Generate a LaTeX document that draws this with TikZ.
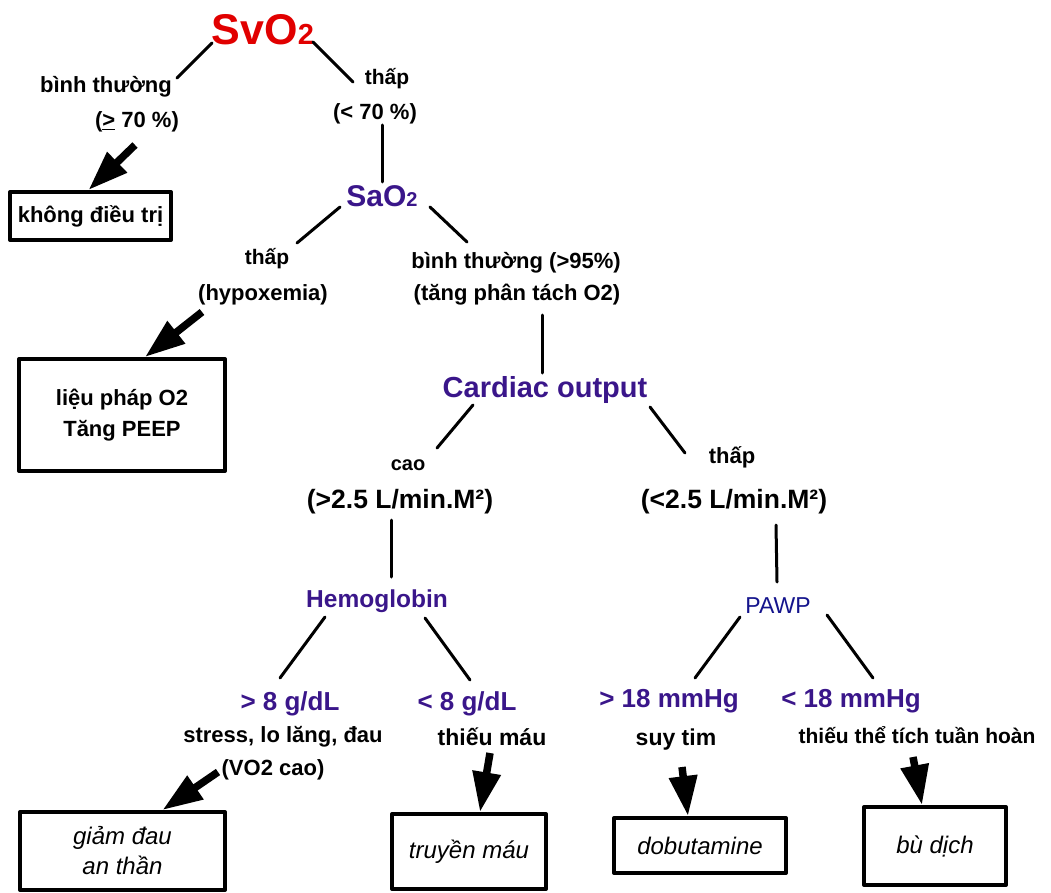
\documentclass[tikz,border=0pt]{standalone}
\usepackage{fontspec}
\setmainfont{Liberation Sans}
\usetikzlibrary{arrows.meta}
\definecolor{svored}{RGB}{225,0,0}
\definecolor{purp}{RGB}{58,22,138}
\definecolor{pawpblue}{RGB}{20,20,140}
\newcommand{\fs}[1]{\fontsize{#1}{#1}\selectfont}

\begin{document}
\begin{tikzpicture}[x=1pt,y=-1pt,line cap=round,line join=round,
  lbl/.style={anchor=base,inner sep=0pt,font=\fs{22}\bfseries},
  keynode/.style={anchor=base,inner sep=0pt,text=purp,font=\fs{26}\bfseries},
  link/.style={line width=3pt},
  treat/.style={draw,line width=4pt,inner sep=0pt,align=center,font=\fontsize{24}{30}\selectfont\itshape},
  bigarrow/.style={line width=7.5pt,line cap=butt,-{Triangle[length=40pt,width=27pt]}}]
\useasboundingbox (0,0) rectangle (1051,893);
% SvO2 level
\node[keynode,text=svored,font=\fs{43}\bfseries] (svo) at (263,45) {SvO{\fs{29}2}};
\node[lbl] (norm1) at (106,93) {bình thường};
\node[lbl] (ge70) at (137,128) {(\underline{>} 70 \%)};
\node[lbl,font=\fs{21}\bfseries] (low1) at (387,85) {thấp};
\node[lbl] (lt70) at (375,120) {(< 70 \%)};
\node[treat,minimum width=161pt,minimum height=48pt,font=\fs{22}\bfseries] (none) at (90.5,216) {không điều trị};
% SaO2 level
\node[keynode,font=\fs{30}\bfseries] (sao) at (382,207) {SaO{\fs{20}2}};
\node[lbl,font=\fs{21}\bfseries] (low2) at (267,265) {thấp};
\node[lbl] (hypox) at (263,300) {(hypoxemia)};
\node[lbl] (norm2) at (516,268) {bình thường (>95\%)};
\node[lbl] (sep) at (517,300) {(tăng phân tách O2)};
\node[treat,minimum width=206pt,minimum height=112pt,font=\fontsize{22}{31}\selectfont\bfseries] (o2) at (122,415) {liệu pháp O2\\Tăng PEEP};
% cardiac output level
\node[keynode,font=\fs{29}\bfseries] (co) at (545,397) {Cardiac output};
\node[lbl,font=\fs{20}\bfseries] (high) at (408,470) {cao};
\node[lbl,font=\fs{26.5}\bfseries] (gt25) at (400,508) {(>2.5 L/min.M²)};
\node[lbl] (low3) at (732,463) {thấp};
\node[lbl,font=\fs{26.5}\bfseries] (lt25) at (734,508) {(<2.5 L/min.M²)};
% hemoglobin branch
\node[keynode,font=\fs{24.5}\bfseries] (hb) at (377,607) {Hemoglobin};
\node[keynode] (gt8) at (290,710) {> 8 g/dL};
\node[keynode] (lt8) at (467,710) {< 8 g/dL};
\node[lbl] (stress) at (283,742) {stress, lo lăng, đau};
\node[lbl] (vo2) at (273,775) {(VO2 cao)};
\node[lbl,font=\fs{23}\bfseries] (anemia) at (492,745) {thiếu máu};
\node[treat,minimum width=205pt,minimum height=78pt] (sed) at (122.5,851) {giảm đau\\an thần};
\node[treat,minimum width=154pt,minimum height=75pt] (transf) at (469,851.5) {truyền máu};
% PAWP branch
\node[keynode,text=pawpblue,font=\fs{23}] (pawp) at (778,613) {PAWP};
\node[keynode] (gt18) at (669,707) {> 18 mmHg};
\node[keynode] (lt18) at (851,707) {< 18 mmHg};
\node[lbl,font=\fs{23}\bfseries] (hf) at (676,745) {suy tim};
\node[lbl,font=\fs{21}\bfseries] (hypovol) at (917,743) {thiếu thể tích tuần hoàn};
\node[treat,minimum width=172pt,minimum height=55pt] (dobu) at (700,845.5) {dobutamine};
\node[treat,minimum width=142pt,minimum height=78pt] (fluid) at (935,846) {bù dịch};
% branches
\draw[link] ([shift={(-51,-2)}]svo.base) -- ([shift={(71,-15)}]norm1.base);
\draw[link] ([shift={(50,-3)}]svo.base) -- ([shift={(-34,-3)}]low1.base);
\draw[link] ([shift={(7,5)}]lt70.base) -- ([shift={(0,-25)}]sao.base);
\draw[link] ([shift={(-42,0)}]sao.base) -- ([shift={(30,-22)}]low2.base);
\draw[link] ([shift={(48,0)}]sao.base) -- ([shift={(-49,-26)}]norm2.base);
\draw[link] ([shift={(25,15)}]sep.base) -- ([shift={(-3,-24)}]co.base);
\draw[link] ([shift={(-72,8)}]co.base) -- ([shift={(29,-22)}]high.base);
\draw[link] ([shift={(105,10)}]co.base) -- ([shift={(-47,-10)}]low3.base);
\draw[link] ([shift={(-9,12)}]gt25.base) -- ([shift={(14,-30)}]hb.base);
\draw[link] ([shift={(42,17)}]lt25.base) -- ([shift={(-1,-31)}]pawp.base);
\draw[link] ([shift={(-52,10)}]hb.base) -- ([shift={(-10,-32)}]gt8.base);
\draw[link] ([shift={(48,11)}]hb.base) -- ([shift={(3,-30)}]lt8.base);
\draw[link] ([shift={(-38,4)}]pawp.base) -- ([shift={(26,-29)}]gt18.base);
\draw[link] ([shift={(49,2)}]pawp.base) -- ([shift={(22,-29)}]lt18.base);
% treatment arrows
\draw[bigarrow] ([shift={(-2,17)}]ge70.base) -- ([xshift=-2pt]none.north);
\draw[bigarrow] ([shift={(-61,12)}]hypox.base) -- ([xshift=23pt]o2.north);
\draw[bigarrow] ([shift={(-55,-3)}]vo2.base) -- ([xshift=40pt]sed.north);
\draw[bigarrow] ([shift={(-2,8)}]anemia.base) -- ([xshift=11pt]transf.north);
\draw[bigarrow] ([shift={(6,22)}]hf.base) -- ([xshift=-12pt]dobu.north);
\draw[bigarrow] ([shift={(-4,14)}]hypovol.base) -- ([xshift=-13pt]fluid.north);
\end{tikzpicture}
\end{document}
